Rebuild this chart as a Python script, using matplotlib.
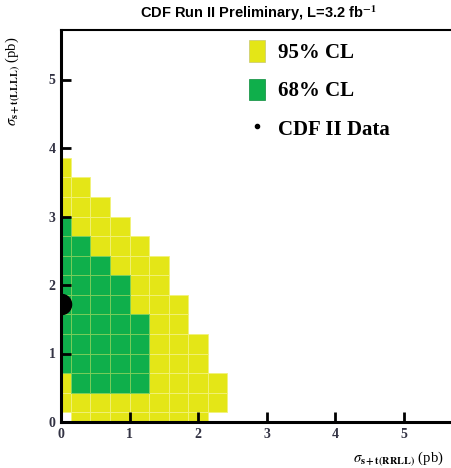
import numpy as np
import matplotlib.pyplot as plt
from matplotlib.patches import Patch
from matplotlib.lines import Line2D

# grid step of the scan (pb), cells centred on multiples of it
STEP = 2 / 7

# per column i (x = i*STEP): row index ranges (inclusive) of each region
yellow_lo = [1, 0, 0, 0, 0, 0, 0, 0, 1]
yellow_hi = [13, 12, 11, 10, 9, 8, 6, 4, 2]
green_lo  = [3, 2, 2, 2, 2]
green_hi  = [10, 9, 8, 7, 5]

data_x = [0.0]
data_y = [1.72]

x_ticks = [0, 1, 2, 3, 4, 5]
y_ticks = [0, 1, 2, 3, 4, 5]

YELLOW = "#e4e617"
GREEN  = "#0faf4b"

plt.rcParams["mathtext.fontset"] = "stix"

# collect cell centres per colour
yx, yy, gx, gy = [], [], [], []
for i, (lo, hi) in enumerate(zip(yellow_lo, yellow_hi)):
    for j in range(lo, hi + 1):
        in_green = i < len(green_lo) and green_lo[i] <= j <= green_hi[i]
        if in_green:
            gx.append(i * STEP); gy.append(j * STEP)
        else:
            yx.append(i * STEP); yy.append(j * STEP)

fig = plt.figure(figsize=(4.51, 4.68), dpi=100)
ax = fig.add_axes([61 / 451, 46 / 468, 390 / 451, 392 / 468])

ax.bar(yx, STEP, width=STEP, bottom=np.array(yy) - STEP / 2, color=YELLOW,
       edgecolor="#f2f27a", linewidth=0.6)
ax.bar(gx, STEP, width=STEP, bottom=np.array(gy) - STEP / 2, color=GREEN,
       edgecolor="#7fcf5a", linewidth=0.6)
ax.plot(data_x, data_y, "o", color="black", ms=14.5, zorder=5)

ax.set_xlim(0, 390 / 68.5)
ax.set_ylim(0, 392 / 68.5)
ax.set_xticks(x_ticks)
ax.set_yticks(y_ticks)
ax.tick_params(direction="in", length=7, width=2, top=False, right=False, pad=4)
for lab in ax.get_xticklabels() + ax.get_yticklabels():
    lab.set_fontfamily("Liberation Serif")
    lab.set_fontweight("bold")
    lab.set_fontsize(10)
    lab.set_color("#333344")

for s in ["left", "bottom"]:
    ax.spines[s].set_linewidth(2.2)
ax.spines["top"].set_linewidth(1.5)
ax.spines["right"].set_visible(False)

ax.set_ylabel(r"$\sigma_{\mathbf{s+t(LLLL)}}$ (pb)", fontsize=10.5,
              fontfamily="Liberation Serif")
ax.yaxis.set_label_coords(-0.1, 0.87)
ax.set_xlabel(r"$\sigma_{\mathbf{s+t(RRLL)}}$ (pb)", fontsize=10.5,
              fontfamily="Liberation Serif")
ax.xaxis.set_label_coords(0.865, -0.07)

fig.text(258 / 451, 1 - 13 / 468, r"CDF Run II Preliminary, L=3.2 fb$^{\mathbf{-1}}$",
         ha="center", va="center", fontsize=10.5, fontweight="bold",
         fontfamily="Liberation Sans")

handles = [
    Patch(facecolor=YELLOW, edgecolor="#c8c870", linewidth=0.5),
    Patch(facecolor=GREEN, edgecolor="#0a8a3a", linewidth=0.5),
    Line2D([], [], marker="o", ms=3, color="black", linestyle="none"),
]
ax.legend(handles, ["95% CL", "68% CL", "CDF II Data"], loc="upper left",
          bbox_to_anchor=(0.46, 0.995), frameon=False, borderaxespad=0,
          prop={"family": "Liberation Serif", "size": 15, "weight": "bold"},
          handlelength=0.8, handleheight=1.2, handletextpad=0.6, labelspacing=0.75)

fig.savefig("out.png", dpi=100)
